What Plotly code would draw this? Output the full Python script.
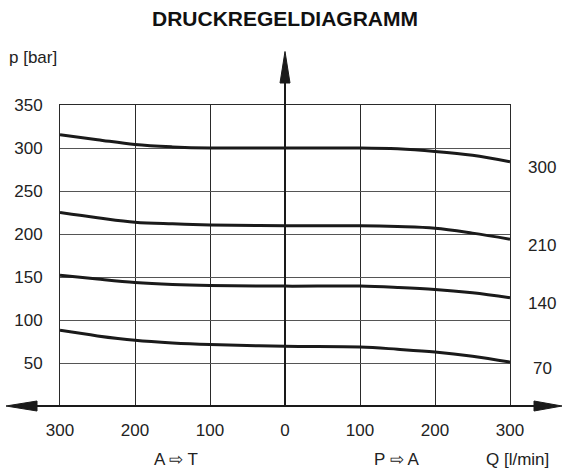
import plotly.graph_objects as go

# ---------------- data ----------------
flow = [-300, -250, -200, -150, -100, 0, 100, 150, 200, 250, 300]
p300 = [315.5, 309.7, 304, 301.3, 300, 300, 300, 299, 296, 291.5, 284]
p210 = [225, 219, 213.7, 211.8, 210.6, 209.5, 209.5, 208.6, 206.7, 201, 194]
p140 = [152, 147.6, 143.7, 141.4, 140.2, 139.4, 139.4, 137.9, 135.6, 131.6, 126]
p70 = [88, 81.5, 76.4, 73.3, 71.4, 69.4, 68.6, 66, 62.8, 57.8, 51]
curve_labels = ["300", "210", "140", "70"]

x_tickvals = [-300, -200, -100, 0, 100, 200, 300]
x_ticktext = ["300", "200", "100", "0", "100", "200", "300"]
y_tickvals = [50, 100, 150, 200, 250, 300, 350]

W, H = 562, 473
ML, MR, MT, MB = 60, 52, 105, 67
FONT = "Liberation Sans, Arial, Helvetica, sans-serif"
INK = "#1a1a1a"

def px(p):
    return (p - ML) / (W - ML - MR)

def py(p):
    return (H - MB - p) / (H - MT - MB)

fig = go.Figure()
for ys in [p300, p210, p140, p70]:
    fig.add_trace(go.Scatter(x=flow, y=ys, mode="lines",
                             line=dict(color=INK, width=3, shape="spline", smoothing=1),
                             hoverinfo="skip", showlegend=False))

shapes = []
# horizontal axis line + arrows (paper coords, not clipped)
y0 = py(H - MB)
shapes.append(dict(type="line", xref="paper", yref="paper", x0=px(20), x1=px(545), y0=y0, y1=y0,
                   line=dict(color=INK, width=2)))
shapes.append(dict(type="path", xref="paper", yref="paper",
                   path=f"M {px(6)} {y0} L {px(37)} {py(H-MB-5)} L {px(37)} {py(H-MB+5)} Z",
                   fillcolor=INK, line=dict(color=INK, width=1)))
shapes.append(dict(type="path", xref="paper", yref="paper",
                   path=f"M {px(562)} {y0} L {px(534)} {py(H-MB-5)} L {px(534)} {py(H-MB+5)} Z",
                   fillcolor=INK, line=dict(color=INK, width=1)))
# vertical axis line + arrow
xc = px(ML + (W - ML - MR) / 2)
shapes.append(dict(type="line", xref="paper", yref="paper", x0=xc, x1=xc, y0=y0, y1=py(75),
                   line=dict(color=INK, width=2)))
shapes.append(dict(type="path", xref="paper", yref="paper",
                   path=f"M {xc} {py(51.5)} L {px(280)} {py(83)} L {px(290)} {py(83)} Z",
                   fillcolor=INK, line=dict(color=INK, width=1)))

annotations = [
    dict(text="<b>DRUCKREGELDIAGRAMM</b>", xref="paper", yref="paper", x=px(285), y=py(18),
         xanchor="center", yanchor="middle", showarrow=False, font=dict(size=21, color="#111", family=FONT)),
    dict(text="p [bar]", xref="paper", yref="paper", x=px(33), y=py(57),
         xanchor="center", yanchor="middle", showarrow=False, font=dict(size=17, color="#222", family=FONT)),
    dict(text="A ⇨ T", xref="paper", yref="paper", x=px(176), y=py(459),
         xanchor="center", yanchor="middle", showarrow=False, font=dict(size=17, color="#222", family=FONT)),
    dict(text="P ⇨ A", xref="paper", yref="paper", x=px(397), y=py(459),
         xanchor="center", yanchor="middle", showarrow=False, font=dict(size=17, color="#222", family=FONT)),
    dict(text="Q [l/min]", xref="paper", yref="paper", x=px(517), y=py(459),
         xanchor="center", yanchor="middle", showarrow=False, font=dict(size=17, color="#222", family=FONT)),
]
for lab, ys in zip(curve_labels, [p300, p210, p140, p70]):
    annotations.append(dict(text=lab, xref="x", yref="y", x=flow[-1], y=ys[-1], xshift=32, yshift=-6,
                            xanchor="center", yanchor="middle", showarrow=False,
                            font=dict(size=17, color="#222", family=FONT)))

fig.update_layout(
    width=W, height=H,
    margin=dict(l=ML, r=MR, t=MT, b=MB, pad=0),
    paper_bgcolor="white", plot_bgcolor="white",
    font=dict(family=FONT, size=17, color="#222"),
    shapes=shapes, annotations=annotations,
    xaxis=dict(range=[-300, 300], tickvals=x_tickvals, ticktext=x_ticktext,
               showgrid=True, gridcolor="#2a2a2a", gridwidth=1, zeroline=False,
               showline=True, mirror=True, linecolor="#2a2a2a", linewidth=1,
               ticks="outside", ticklen=9, tickcolor="rgba(0,0,0,0)", fixedrange=True),
    yaxis=dict(range=[0, 350], tickvals=y_tickvals,
               showgrid=True, gridcolor="#555", gridwidth=1, zeroline=False,
               showline=True, mirror=True, linecolor="#2a2a2a", linewidth=1,
               ticks="outside", ticklen=13, tickcolor="rgba(0,0,0,0)", fixedrange=True),
)

fig.write_html("out.html")
